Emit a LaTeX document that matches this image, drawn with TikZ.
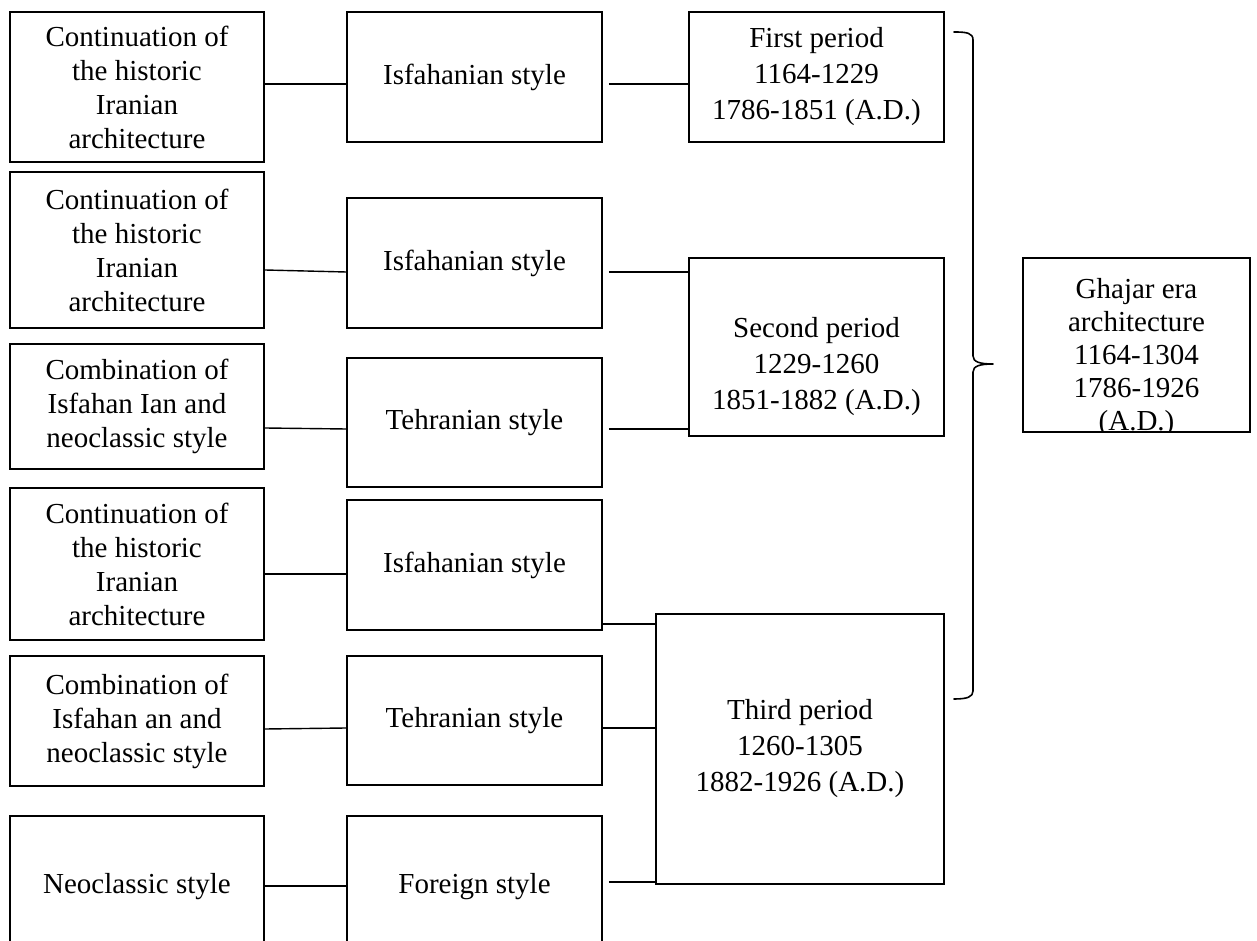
\documentclass[tikz,border=0pt]{standalone}
\usepackage{fontspec}
\setmainfont{Liberation Serif}
\begin{document}
\begin{tikzpicture}[x=1pt,y=1pt,
  box/.style={draw, line width=1.8pt, align=center, inner sep=0pt,
              font=\fontsize{29}{34}\selectfont},
  plain/.style={align=center, inner sep=0pt},
  link/.style={line width=1.4pt},
  brace/.style={line width=1.6pt, line cap=round, line join=round}]
\clip (0,0) rectangle (1257,940);
\fill[white] (0,0) rectangle (1257,940);

% left column: sources of each style
\node[box, minimum width=254, minimum height=150] (l1) at (137,853)
  {Continuation of\\the historic\\Iranian\\architecture};
\node[box, minimum width=254, minimum height=156] (l2) at (137,690)
  {Continuation of\\the historic\\Iranian\\architecture};
\node[box, minimum width=254, minimum height=125] (l3) at (137,533.5)
  {Combination of\\Isfahan Ian and\\neoclassic style};
\node[box, minimum width=254, minimum height=152] (l4) at (137,376)
  {Continuation of\\the historic\\Iranian\\architecture};
\node[box, minimum width=254, minimum height=130] (l5) at (137,219)
  {Combination of\\Isfahan an and\\neoclassic style};
\node[box, minimum width=254, minimum height=142] (l6) at (137,53)
  {Neoclassic style};

% middle column: styles
\node[box, minimum width=255, minimum height=130] (m1) at (474.5,863) {Isfahanian style};
\node[box, minimum width=255, minimum height=130] (m2) at (474.5,677) {Isfahanian style};
\node[box, minimum width=255, minimum height=129] (m3) at (474.5,517.5) {Tehranian style};
\node[box, minimum width=255, minimum height=130] (m4) at (474.5,375) {Isfahanian style};
\node[box, minimum width=255, minimum height=129] (m5) at (474.5,219.5) {Tehranian style};
\node[box, minimum width=255, minimum height=142] (m6) at (474.5,53) {Foreign style};

% periods
\node[box, minimum width=255, minimum height=130,
      font=\fontsize{29}{36}\selectfont] (p1) at (816.5,863)
  {First period\\1164-1229\\1786-1851 (A.D.)};
\node[box, minimum width=255, minimum height=178] (p2) at (816.5,593) {};
\node[plain, font=\fontsize{29}{36}\selectfont] (p2text) at (816.5,573)
  {Second period\\1229-1260\\1851-1882 (A.D.)};
\node[box, minimum width=288, minimum height=270,
      font=\fontsize{29}{36}\selectfont] (p3) at (800,191)
  {Third period\\1260-1305\\1882-1926 (A.D.)};

% whole era; its last line runs into the bottom edge
\node[box, minimum width=227, minimum height=174] (g) at (1136.5,595) {};
\begin{scope}
  \clip (g.south west) rectangle (g.north east);
  \node[plain, font=\fontsize{29}{33}\selectfont] (gtext) at (1136.5,582)
    {Ghajar era\\architecture\\1164-1304\\1786-1926\\(A.D.)};
\end{scope}

% connectors
\draw[link] (l1.east |- 0,856) -- (m1.west |- 0,856);
\draw[link] (l2.east |- 0,670) -- (m2.west |- 0,668);
\draw[link] (l3.east |- 0,512) -- (m3.west |- 0,511);
\draw[link] (l4.east |- 0,366) -- (m4.west |- 0,366);
\draw[link] (l5.east |- 0,211) -- (m5.west |- 0,212);
\draw[link] (l6.east |- 0,54)  -- (m6.west |- 0,54);

\draw[link, shorten <=6pt] (m1.east |- 0,856) -- (p1.west |- 0,856);
\draw[link, shorten <=6pt] (m2.east |- 0,668) -- (p2.west |- 0,668);
\draw[link, shorten <=6pt] (m3.east |- 0,511) -- (p2.west |- 0,511);
\draw[link] (m4.east |- 0,316) -- (p3.west |- 0,316);
\draw[link] (m5.east |- 0,212) -- (p3.west |- 0,212);
\draw[link, shorten <=6pt] (m6.east |- 0,58) -- (p3.west |- 0,58);

% brace gathering the three periods
\coordinate (bt) at (954,908);
\coordinate (bb) at (954,241);
\coordinate (tip) at (993,576);
\draw[brace] (bt) .. controls (967,908) and (973,907) .. (973,900)
  -- (973,584) .. controls (973,578) and (980,576) .. (tip)
  .. controls (980,576) and (973,574) .. (973,568)
  -- (973,249) .. controls (973,243) and (967,241) .. (bb);
\end{tikzpicture}
\end{document}
